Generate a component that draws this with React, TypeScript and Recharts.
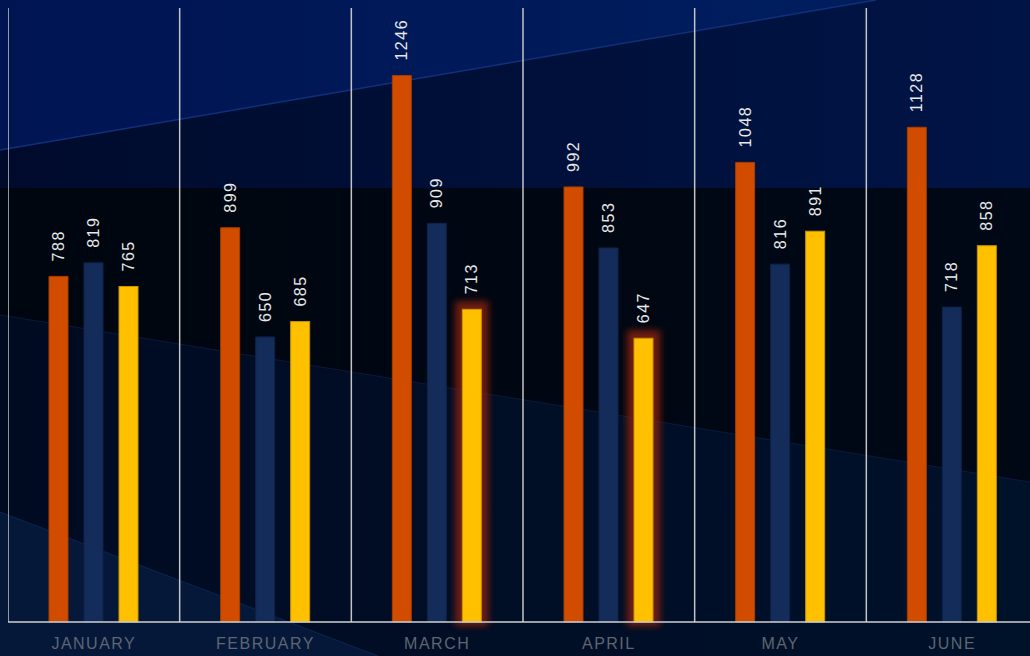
import React from 'react';
import { BarChart, Bar, XAxis, YAxis, ReferenceLine, LabelList } from 'recharts';

const months = ['JANUARY', 'FEBRUARY', 'MARCH', 'APRIL', 'MAY', 'JUNE'];
const seriesOrange = [788, 899, 1246, 992, 1048, 1128];
const seriesNavy = [819, 650, 909, 853, 816, 718];
const seriesYellow = [765, 685, 713, 647, 891, 858];
const highlightedMonths = ['MARCH', 'APRIL'];
const yDomain = [0, 1400];

const data = months.map((m, i) => ({
  month: m,
  orange: seriesOrange[i],
  navy: seriesNavy[i],
  yellow: seriesYellow[i],
}));

const FONT = '"Liberation Sans", Arial, Helvetica, sans-serif';

const ValueLabel = (props: any) => {
  const { x, y, width, value } = props;
  const cx = Number(x) + Number(width) / 2;
  const ty = Number(y) - 15;
  return (
    <text
      x={cx}
      y={ty}
      transform={`rotate(-90 ${cx} ${ty})`}
      textAnchor="start"
      dominantBaseline="central"
      fill="#e8e8e8"
      fontSize={16}
      letterSpacing={1.5}
      fontFamily={FONT}
    >
      {value}
    </text>
  );
};

const YellowShape = (props: any) => {
  const { x, y, width, height, payload, index } = props;
  const glow = payload && highlightedMonths.includes(payload.month);
  const fid = `glow-${index}`;
  return (
    <g>
      {glow && (
        <>
          <defs>
            <filter id={fid} x="-100%" y="-20%" width="300%" height="140%">
              <feGaussianBlur stdDeviation={3.5} />
            </filter>
          </defs>
          <rect
            x={x - 7}
            y={y - 8}
            width={width + 14}
            height={height + 12}
            fill="#8e2410"
            opacity={0.8}
            filter={`url(#${fid})`}
          />
        </>
      )}
      <rect x={x} y={y} width={width} height={height} fill="#ffc000" stroke="#c99500" strokeWidth={1} />
    </g>
  );
};

const MonthTick = (props: any) => {
  const { x, y, payload } = props;
  return (
    <text
      x={x}
      y={y}
      dy="0.71em"
      textAnchor="middle"
      fill="#5f6572"
      fontSize={16}
      letterSpacing={1.5}
      fontFamily={FONT}
    >
      {payload.value}
    </text>
  );
};

const Background = () => (
  <svg
    width={1030}
    height={656}
    style={{ position: 'fixed', left: 0, top: 0, zIndex: 0 }}
  >
    <defs>
      <linearGradient id="bgTop" x1="0" y1="0" x2="1" y2="0">
        <stop offset="0" stopColor="#000b2c" />
        <stop offset="1" stopColor="#001446" />
      </linearGradient>
      <linearGradient id="bgTopLight" x1="0" y1="0" x2="1" y2="0">
        <stop offset="0" stopColor="#001452" />
        <stop offset="1" stopColor="#001e5e" />
      </linearGradient>
      <linearGradient id="bgMid" x1="0" y1="0" x2="1" y2="0">
        <stop offset="0" stopColor="#00060f" />
        <stop offset="1" stopColor="#000816" />
      </linearGradient>
      <linearGradient id="bgLow" x1="0" y1="0" x2="1" y2="0">
        <stop offset="0" stopColor="#000b22" />
        <stop offset="1" stopColor="#00112a" />
      </linearGradient>
    </defs>
    <rect x={0} y={0} width={1030} height={656} fill="#000a1e" />
    <rect x={0} y={0} width={1030} height={188} fill="url(#bgTop)" />
    <polygon points="0,0 876,0 0,150" fill="url(#bgTopLight)" />
    <line x1={0} y1={150} x2={876} y2={0} stroke="#10307a" strokeWidth={1.5} />
    <polygon points="0,188 1030,188 1030,482 0,315" fill="url(#bgMid)" />
    <polygon points="0,315 1030,482 1030,656 0,656" fill="url(#bgLow)" />
    <line x1={0} y1={315} x2={1030} y2={482} stroke="#0a1a3a" strokeWidth={1} />
    <polygon points="0,512 378,656 0,656" fill="#05183a" />
    <line x1={0} y1={512} x2={378} y2={656} stroke="#0c2550" strokeWidth={1} />
  </svg>
);

export default function App() {
  return (
    <>
      <Background />
      <div
        style={{
          position: 'fixed',
          left: 8,
          top: 8,
          zIndex: 1,
          width: 1022,
          height: 648,
          overflow: 'hidden',
        }}
      >
        <BarChart
          width={1030}
          height={648}
          data={data}
          margin={{ top: 0, right: 0, bottom: 0, left: 0 }}
          barSize={19}
          barGap={16}
        >
          <YAxis hide domain={yDomain} />
          <XAxis
            dataKey="month"
            height={34}
            tickLine={false}
            tickSize={0}
            tickMargin={16}
            axisLine={{ stroke: '#d0d0d0', strokeWidth: 1.5 }}
            tick={<MonthTick />}
            interval={0}
          />
          {months.map((m) => (
            <ReferenceLine
              key={m}
              x={m}
              position="start"
              stroke="#c4c4c4"
              strokeWidth={1.5}
              ifOverflow="extendDomain"
            />
          ))}
          <Bar dataKey="orange" fill="#d24c00" stroke="#a83e00" strokeWidth={1} isAnimationActive={false}>
            <LabelList dataKey="orange" content={<ValueLabel />} />
          </Bar>
          <Bar dataKey="navy" fill="#142c5a" stroke="#0f2248" strokeWidth={1} isAnimationActive={false}>
            <LabelList dataKey="navy" content={<ValueLabel />} />
          </Bar>
          <Bar dataKey="yellow" fill="#ffc000" shape={<YellowShape />} isAnimationActive={false}>
            <LabelList dataKey="yellow" content={<ValueLabel />} />
          </Bar>
        </BarChart>
      </div>
    </>
  );
}
